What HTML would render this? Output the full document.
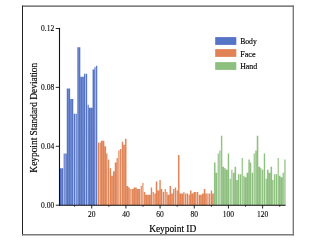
<!DOCTYPE html>
<html><head><meta charset="utf-8"><style>
html,body{margin:0;padding:0;background:#fff;}
svg{display:block;will-change:transform;opacity:0.9999;}
text{font-family:"Liberation Serif",serif;fill:#000;stroke:#000;stroke-width:0.15px;}
.t{font-size:7.5px;stroke-width:0.1px;}
.l{font-size:8.4px;}
.a{font-size:9.4px;}
</style></head><body>
<svg width="332" height="246" viewBox="0 0 332 246">
<rect width="332" height="246" fill="#fff"/>
<!-- frame -->
<line x1="22.5" y1="5.6" x2="22.5" y2="235.5" stroke="#222" stroke-width="1"/>
<line x1="22" y1="6.1" x2="293.9" y2="6.1" stroke="#2a2a2a" stroke-width="1"/>
<line x1="293.3" y1="5.6" x2="293.3" y2="235.6" stroke="#707070" stroke-width="1.3"/>
<line x1="22" y1="234.8" x2="293.95" y2="234.8" stroke="#7a7a7a" stroke-width="1.5"/>
<!-- bars -->
<polygon points="59.500,205.2 59.500,166.82 59.925,166.82 59.925,168.30 61.675,168.30 61.675,168.30 63.300,168.30 63.300,153.54 65.050,153.54 65.050,153.54 66.675,153.54 66.675,88.60 68.425,88.60 68.425,88.60 70.175,88.60 70.175,98.93 71.925,98.93 71.925,98.93 73.550,98.93 73.550,113.69 75.300,113.69 75.300,113.69 77.050,113.69 77.050,47.27 78.675,47.27 78.675,47.27 80.425,47.27 80.425,76.79 82.175,76.79 82.175,76.79 83.925,76.79 83.925,73.84 85.550,73.84 85.550,73.84 87.300,73.84 87.300,104.83 88.925,104.83 88.925,107.78 90.675,107.78 90.675,107.78 92.425,107.78 92.425,69.41 94.175,69.41 94.175,67.34 95.800,67.34 95.800,65.72 97.550,65.72 97.550,205.2" fill="#5674c6"/><polygon points="97.550,205.2 97.550,142.47 99.300,142.47 99.300,142.47 100.925,142.47 100.925,140.85 102.675,140.85 102.675,140.85 104.425,140.85 104.425,146.16 106.175,146.16 106.175,153.54 107.800,153.54 107.800,159.44 109.550,159.44 109.550,168.30 111.175,168.30 111.175,175.68 112.925,175.68 112.925,171.25 114.675,171.25 114.675,162.40 116.425,162.40 116.425,157.97 118.050,157.97 118.050,150.59 119.800,150.59 119.800,149.11 121.550,149.11 121.550,141.73 123.175,141.73 123.175,144.68 124.925,144.68 124.925,138.78 126.675,138.78 126.675,186.01 128.425,186.01 128.425,187.49 130.050,187.49 130.050,188.96 131.800,188.96 131.800,188.96 133.425,188.96 133.425,187.49 135.175,187.49 135.175,187.49 136.925,187.49 136.925,188.96 138.675,188.96 138.675,188.96 140.300,188.96 140.300,186.01 142.050,186.01 142.050,183.06 143.800,183.06 143.800,191.92 145.425,191.92 145.425,194.87 147.175,194.87 147.175,194.87 148.925,194.87 148.925,194.87 150.675,194.87 150.675,187.49 152.300,187.49 152.300,191.92 154.050,191.92 154.050,193.39 155.675,193.39 155.675,181.58 157.425,181.58 157.425,190.44 159.175,190.44 159.175,180.11 160.925,180.11 160.925,188.96 162.550,188.96 162.550,191.92 164.300,191.92 164.300,188.96 166.050,188.96 166.050,191.92 167.675,191.92 167.675,194.87 169.425,194.87 169.425,186.01 171.175,186.01 171.175,193.39 172.925,193.39 172.925,188.96 174.550,188.96 174.550,187.49 176.300,187.49 176.300,190.44 177.925,190.44 177.925,155.02 179.675,155.02 179.675,193.39 181.425,193.39 181.425,193.39 183.175,193.39 183.175,191.92 184.800,191.92 184.800,193.39 186.550,193.39 186.550,193.39 188.300,193.39 188.300,194.87 189.925,194.87 189.925,190.44 191.675,190.44 191.675,193.39 193.425,193.39 193.425,191.92 195.175,191.92 195.175,191.92 196.800,191.92 196.800,191.92 198.550,191.92 198.550,194.87 200.175,194.87 200.175,194.87 201.925,194.87 201.925,193.39 203.675,193.39 203.675,188.96 205.425,188.96 205.425,193.39 207.050,193.39 207.050,193.39 208.800,193.39 208.800,193.39 210.550,193.39 210.550,190.44 212.175,190.44 212.175,193.39 213.925,193.39 213.925,205.2" fill="#e18355"/><polygon points="213.925,205.2 213.925,162.40 215.675,162.40 215.675,172.73 217.300,172.73 217.300,153.54 219.050,153.54 219.050,150.59 220.800,150.59 220.800,135.83 222.425,135.83 222.425,166.82 224.175,166.82 224.175,168.30 225.925,168.30 225.925,169.78 227.675,169.78 227.675,153.54 229.300,153.54 229.300,178.63 231.050,178.63 231.050,169.78 232.800,169.78 232.800,172.73 234.425,172.73 234.425,166.82 236.175,166.82 236.175,180.11 237.925,180.11 237.925,174.20 239.550,174.20 239.550,174.20 241.300,174.20 241.300,157.97 243.050,157.97 243.050,175.68 244.675,175.68 244.675,177.16 246.425,177.16 246.425,172.73 248.175,172.73 248.175,159.44 249.925,159.44 249.925,162.40 251.550,162.40 251.550,172.73 253.300,172.73 253.300,153.54 255.050,153.54 255.050,150.59 256.675,150.59 256.675,135.83 258.425,135.83 258.425,166.82 260.175,166.82 260.175,168.30 261.800,168.30 261.800,169.78 263.550,169.78 263.550,153.54 265.300,153.54 265.300,178.63 266.925,178.63 266.925,169.78 268.675,169.78 268.675,172.73 270.425,172.73 270.425,166.82 272.175,166.82 272.175,180.11 273.800,180.11 273.800,174.20 275.550,174.20 275.550,174.20 277.300,174.20 277.300,157.97 278.925,157.97 278.925,175.68 280.675,175.68 280.675,177.16 282.425,177.16 282.425,172.73 284.050,172.73 284.050,159.44 285.550,159.44 285.550,205.2" fill="#8dbf7e"/><path d="M59.860 166.32h0.130v38.88h-0.130zM59.800 166.32h0.250v1.98h-0.250zM61.610 167.80h0.130v37.40h-0.130zM63.050 153.04h0.500v52.16h-0.500zM63.050 153.04h0.500v15.26h-0.500zM64.800 153.04h0.500v52.16h-0.500zM66.610 88.10h0.130v117.10h-0.130zM66.550 88.10h0.250v65.44h-0.250zM68.360 88.10h0.130v117.10h-0.130zM70.110 88.10h0.130v117.10h-0.130zM70.050 88.10h0.250v10.83h-0.250zM71.860 98.43h0.130v106.77h-0.130zM73.300 98.43h0.500v106.77h-0.500zM73.300 98.43h0.500v15.26h-0.500zM75.050 113.19h0.500v92.01h-0.500zM76.800 46.77h0.500v158.43h-0.500zM76.800 46.77h0.500v66.92h-0.500zM78.610 46.77h0.130v158.43h-0.130zM80.360 46.77h0.130v158.43h-0.130zM80.300 46.77h0.250v30.02h-0.250zM82.110 76.29h0.130v128.91h-0.130zM83.860 73.34h0.130v131.86h-0.130zM83.800 73.34h0.250v3.45h-0.250zM85.300 73.34h0.500v131.86h-0.500zM87.050 73.34h0.500v131.86h-0.500zM87.050 73.34h0.500v31.50h-0.500zM88.860 104.33h0.130v100.87h-0.130zM88.800 104.33h0.250v3.45h-0.250zM90.610 107.28h0.130v97.92h-0.130zM92.360 68.91h0.130v136.29h-0.130zM92.300 68.91h0.250v38.88h-0.250zM94.110 66.84h0.130v138.36h-0.130zM94.050 66.84h0.250v2.57h-0.250zM95.550 65.22h0.500v139.98h-0.500zM95.550 65.22h0.500v2.12h-0.500zM97.300 65.22h0.500v139.98h-0.500zM97.300 65.22h0.500v77.25h-0.500zM99.050 141.97h0.500v63.23h-0.500zM100.860 140.35h0.130v64.85h-0.130zM100.800 140.35h0.250v2.12h-0.250zM102.610 140.35h0.130v64.85h-0.130zM104.360 140.35h0.130v64.85h-0.130zM104.300 140.35h0.250v5.81h-0.250zM106.110 145.66h0.130v59.54h-0.130zM106.050 145.66h0.250v7.88h-0.250zM107.550 153.04h0.500v52.16h-0.500zM107.550 153.04h0.500v6.40h-0.500zM109.300 158.94h0.500v46.26h-0.500zM109.300 158.94h0.500v9.36h-0.500zM111.110 167.80h0.130v37.40h-0.130zM111.050 167.80h0.250v7.88h-0.250zM112.860 170.75h0.130v34.45h-0.130zM112.800 170.75h0.250v4.93h-0.250zM114.610 161.90h0.130v43.30h-0.130zM114.550 161.90h0.250v9.36h-0.250zM116.360 157.47h0.130v47.73h-0.130zM116.300 157.47h0.250v4.93h-0.250zM117.800 150.09h0.500v55.11h-0.500zM117.800 150.09h0.500v7.88h-0.500zM119.550 148.61h0.500v56.59h-0.500zM119.550 148.61h0.500v1.98h-0.500zM121.300 141.23h0.500v63.97h-0.500zM121.300 141.23h0.500v7.88h-0.500zM123.110 141.23h0.130v63.97h-0.130zM123.050 141.23h0.250v3.45h-0.250zM124.860 138.28h0.130v66.92h-0.130zM124.800 138.28h0.250v6.40h-0.250zM126.610 138.28h0.130v66.92h-0.130zM126.550 138.28h0.250v47.73h-0.250zM128.360 185.51h0.130v19.69h-0.130zM128.300 185.51h0.250v1.98h-0.250zM129.800 186.99h0.500v18.21h-0.500zM129.800 186.99h0.500v1.98h-0.500zM131.550 188.46h0.500v16.74h-0.500zM133.360 186.99h0.130v18.21h-0.130zM133.300 186.99h0.250v1.98h-0.250zM135.110 186.99h0.130v18.21h-0.130zM136.860 186.99h0.130v18.21h-0.130zM136.800 186.99h0.250v1.98h-0.250zM138.610 188.46h0.130v16.74h-0.130zM140.050 185.51h0.500v19.69h-0.500zM140.050 185.51h0.500v3.45h-0.500zM141.800 182.56h0.500v22.64h-0.500zM141.800 182.56h0.500v3.45h-0.500zM143.550 182.56h0.500v22.64h-0.500zM143.550 182.56h0.500v9.36h-0.500zM145.360 191.42h0.130v13.78h-0.130zM145.300 191.42h0.250v3.45h-0.250zM147.110 194.37h0.130v10.83h-0.130zM148.860 194.37h0.130v10.83h-0.130zM150.610 186.99h0.130v18.21h-0.130zM150.550 186.99h0.250v7.88h-0.250zM152.050 186.99h0.500v18.21h-0.500zM152.050 186.99h0.500v4.93h-0.500zM153.800 191.42h0.500v13.78h-0.500zM153.800 191.42h0.500v1.98h-0.500zM155.610 181.08h0.130v24.12h-0.130zM155.550 181.08h0.250v12.31h-0.250zM157.360 181.08h0.130v24.12h-0.130zM157.300 181.08h0.250v9.36h-0.250zM159.110 179.61h0.130v25.59h-0.130zM159.050 179.61h0.250v10.83h-0.250zM160.860 179.61h0.130v25.59h-0.130zM160.800 179.61h0.250v9.36h-0.250zM162.300 188.46h0.500v16.74h-0.500zM162.300 188.46h0.500v3.45h-0.500zM164.050 188.46h0.500v16.74h-0.500zM164.050 188.46h0.500v3.45h-0.500zM165.800 188.46h0.500v16.74h-0.500zM165.800 188.46h0.500v3.45h-0.500zM167.610 191.42h0.130v13.78h-0.130zM167.550 191.42h0.250v3.45h-0.250zM169.360 185.51h0.130v19.69h-0.130zM169.300 185.51h0.250v9.36h-0.250zM171.110 185.51h0.130v19.69h-0.130zM171.050 185.51h0.250v7.88h-0.250zM172.860 188.46h0.130v16.74h-0.130zM172.800 188.46h0.250v4.93h-0.250zM174.300 186.99h0.500v18.21h-0.500zM174.300 186.99h0.500v1.98h-0.500zM176.050 186.99h0.500v18.21h-0.500zM176.050 186.99h0.500v3.45h-0.500zM177.860 154.52h0.130v50.68h-0.130zM177.800 154.52h0.250v35.92h-0.250zM179.610 154.52h0.130v50.68h-0.130zM179.550 154.52h0.250v38.88h-0.250zM181.360 192.89h0.130v12.31h-0.130zM183.110 191.42h0.130v13.78h-0.130zM183.050 191.42h0.250v1.98h-0.250zM184.550 191.42h0.500v13.78h-0.500zM184.550 191.42h0.500v1.98h-0.500zM186.300 192.89h0.500v12.31h-0.500zM188.050 192.89h0.500v12.31h-0.500zM188.050 192.89h0.500v1.98h-0.500zM189.860 189.94h0.130v15.26h-0.130zM189.800 189.94h0.250v4.93h-0.250zM191.610 189.94h0.130v15.26h-0.130zM191.550 189.94h0.250v3.45h-0.250zM193.360 191.42h0.130v13.78h-0.130zM193.300 191.42h0.250v1.98h-0.250zM195.110 191.42h0.130v13.78h-0.130zM196.550 191.42h0.500v13.78h-0.500zM198.300 191.42h0.500v13.78h-0.500zM198.300 191.42h0.500v3.45h-0.500zM200.110 194.37h0.130v10.83h-0.130zM201.860 192.89h0.130v12.31h-0.130zM201.800 192.89h0.250v1.98h-0.250zM203.610 188.46h0.130v16.74h-0.130zM203.550 188.46h0.250v4.93h-0.250zM205.360 188.46h0.130v16.74h-0.130zM205.300 188.46h0.250v4.93h-0.250zM206.800 192.89h0.500v12.31h-0.500zM208.550 192.89h0.500v12.31h-0.500zM210.300 189.94h0.500v15.26h-0.500zM210.300 189.94h0.500v3.45h-0.500zM212.110 189.94h0.130v15.26h-0.130zM212.050 189.94h0.250v3.45h-0.250zM213.860 161.90h0.130v43.30h-0.130zM213.800 161.90h0.250v31.50h-0.250zM215.610 161.90h0.130v43.30h-0.130zM215.550 161.90h0.250v10.83h-0.250zM217.050 153.04h0.500v52.16h-0.500zM217.050 153.04h0.500v19.69h-0.500zM218.800 150.09h0.500v55.11h-0.500zM218.800 150.09h0.500v3.45h-0.500zM220.550 135.33h0.500v69.87h-0.500zM220.550 135.33h0.500v15.26h-0.500zM222.360 135.33h0.130v69.87h-0.130zM222.300 135.33h0.250v31.50h-0.250zM224.110 166.32h0.130v38.88h-0.130zM224.050 166.32h0.250v1.98h-0.250zM225.860 167.80h0.130v37.40h-0.130zM225.800 167.80h0.250v1.98h-0.250zM227.610 153.04h0.130v52.16h-0.130zM227.550 153.04h0.250v16.74h-0.250zM229.050 153.04h0.500v52.16h-0.500zM229.050 153.04h0.500v25.59h-0.500zM230.800 169.28h0.500v35.92h-0.500zM230.800 169.28h0.500v9.36h-0.500zM232.550 169.28h0.500v35.92h-0.500zM232.550 169.28h0.500v3.45h-0.500zM234.360 166.32h0.130v38.88h-0.130zM234.300 166.32h0.250v6.40h-0.250zM236.110 166.32h0.130v38.88h-0.130zM236.050 166.32h0.250v13.78h-0.250zM237.860 173.70h0.130v31.50h-0.130zM237.800 173.70h0.250v6.40h-0.250zM239.300 173.70h0.500v31.50h-0.500zM241.050 157.47h0.500v47.73h-0.500zM241.050 157.47h0.500v16.74h-0.500zM242.800 157.47h0.500v47.73h-0.500zM242.800 157.47h0.500v18.21h-0.500zM244.610 175.18h0.130v30.02h-0.130zM244.550 175.18h0.250v1.98h-0.250zM246.360 172.23h0.130v32.97h-0.130zM246.300 172.23h0.250v4.93h-0.250zM248.110 158.94h0.130v46.26h-0.130zM248.050 158.94h0.250v13.78h-0.250zM249.860 158.94h0.130v46.26h-0.130zM249.800 158.94h0.250v3.45h-0.250zM251.300 161.90h0.500v43.30h-0.500zM251.300 161.90h0.500v10.83h-0.500zM253.050 153.04h0.500v52.16h-0.500zM253.050 153.04h0.500v19.69h-0.500zM254.800 150.09h0.500v55.11h-0.500zM254.800 150.09h0.500v3.45h-0.500zM256.610 135.33h0.130v69.87h-0.130zM256.550 135.33h0.250v15.26h-0.250zM258.360 135.33h0.130v69.87h-0.130zM258.300 135.33h0.250v31.50h-0.250zM260.110 166.32h0.130v38.88h-0.130zM260.050 166.32h0.250v1.98h-0.250zM261.550 167.80h0.500v37.40h-0.500zM261.550 167.80h0.500v1.98h-0.500zM263.300 153.04h0.500v52.16h-0.500zM263.300 153.04h0.500v16.74h-0.500zM265.050 153.04h0.500v52.16h-0.500zM265.050 153.04h0.500v25.59h-0.500zM266.860 169.28h0.130v35.92h-0.130zM266.800 169.28h0.250v9.36h-0.250zM268.610 169.28h0.130v35.92h-0.130zM268.550 169.28h0.250v3.45h-0.250zM270.360 166.32h0.130v38.88h-0.130zM270.300 166.32h0.250v6.40h-0.250zM272.110 166.32h0.130v38.88h-0.130zM272.050 166.32h0.250v13.78h-0.250zM273.550 173.70h0.500v31.50h-0.500zM273.550 173.70h0.500v6.40h-0.500zM275.300 173.70h0.500v31.50h-0.500zM277.050 157.47h0.500v47.73h-0.500zM277.050 157.47h0.500v16.74h-0.500zM278.860 157.47h0.130v47.73h-0.130zM278.800 157.47h0.250v18.21h-0.250zM280.610 175.18h0.130v30.02h-0.130zM280.550 175.18h0.250v1.98h-0.250zM282.360 172.23h0.130v32.97h-0.130zM282.300 172.23h0.250v4.93h-0.250zM283.800 158.94h0.500v46.26h-0.500zM283.800 158.94h0.500v13.78h-0.500z" fill="#fff"/>
<!-- axes -->
<line x1="59.5" y1="27.9" x2="59.5" y2="205.8" stroke="#111" stroke-width="1.1"/>
<line x1="58.9" y1="205.3" x2="285.6" y2="205.3" stroke="#111" stroke-width="1.1"/>
<line x1="74.64" y1="205.2" x2="74.64" y2="206.7" stroke="#111" stroke-width="0.9"/><line x1="91.73" y1="205.2" x2="91.73" y2="208.5" stroke="#111" stroke-width="0.9"/><text x="91.73" y="216.6" text-anchor="middle" class="t">20</text><line x1="108.82" y1="205.2" x2="108.82" y2="206.7" stroke="#111" stroke-width="0.9"/><line x1="125.91" y1="205.2" x2="125.91" y2="208.5" stroke="#111" stroke-width="0.9"/><text x="125.91" y="216.6" text-anchor="middle" class="t">40</text><line x1="143.00" y1="205.2" x2="143.00" y2="206.7" stroke="#111" stroke-width="0.9"/><line x1="160.09" y1="205.2" x2="160.09" y2="208.5" stroke="#111" stroke-width="0.9"/><text x="160.09" y="216.6" text-anchor="middle" class="t">60</text><line x1="177.18" y1="205.2" x2="177.18" y2="206.7" stroke="#111" stroke-width="0.9"/><line x1="194.27" y1="205.2" x2="194.27" y2="208.5" stroke="#111" stroke-width="0.9"/><text x="194.27" y="216.6" text-anchor="middle" class="t">80</text><line x1="211.36" y1="205.2" x2="211.36" y2="206.7" stroke="#111" stroke-width="0.9"/><line x1="228.45" y1="205.2" x2="228.45" y2="208.5" stroke="#111" stroke-width="0.9"/><text x="228.45" y="216.6" text-anchor="middle" class="t">100</text><line x1="245.54" y1="205.2" x2="245.54" y2="206.7" stroke="#111" stroke-width="0.9"/><line x1="262.63" y1="205.2" x2="262.63" y2="208.5" stroke="#111" stroke-width="0.9"/><text x="262.63" y="216.6" text-anchor="middle" class="t">120</text><line x1="279.72" y1="205.2" x2="279.72" y2="206.7" stroke="#111" stroke-width="0.9"/><line x1="55.8" y1="205.2" x2="59.4" y2="205.2" stroke="#111" stroke-width="0.9"/><text x="54.2" y="207.5" text-anchor="end" class="t">0.00</text><line x1="55.8" y1="146.3" x2="59.4" y2="146.3" stroke="#111" stroke-width="0.9"/><text x="54.2" y="148.6" text-anchor="end" class="t">0.04</text><line x1="55.8" y1="87.4" x2="59.4" y2="87.4" stroke="#111" stroke-width="0.9"/><text x="54.2" y="89.7" text-anchor="end" class="t">0.08</text><line x1="55.8" y1="28.5" x2="59.4" y2="28.5" stroke="#111" stroke-width="0.9"/><text x="54.2" y="30.8" text-anchor="end" class="t">0.12</text>
<!-- legend -->
<rect x="215.2" y="37.1" width="21.1" height="7.8" fill="#5674c6"/>
<rect x="215.2" y="49.1" width="21.1" height="7.8" fill="#e18355"/>
<rect x="215.2" y="62.1" width="21.1" height="7.8" fill="#8dbf7e"/>
<text x="240.2" y="44" class="l" textLength="16.6" lengthAdjust="spacingAndGlyphs">Body</text>
<text x="240.2" y="56.6" class="l" textLength="15.3" lengthAdjust="spacingAndGlyphs">Face</text>
<text x="240.2" y="69" class="l" textLength="17" lengthAdjust="spacingAndGlyphs">Hand</text>
<!-- labels -->
<text x="172.7" y="231.7" text-anchor="middle" class="a">Keypoint ID</text>
<text transform="translate(36.5,117.7) rotate(-90)" text-anchor="middle" class="a">Keypoint Standard Deviation</text>
</svg>
</body></html>
